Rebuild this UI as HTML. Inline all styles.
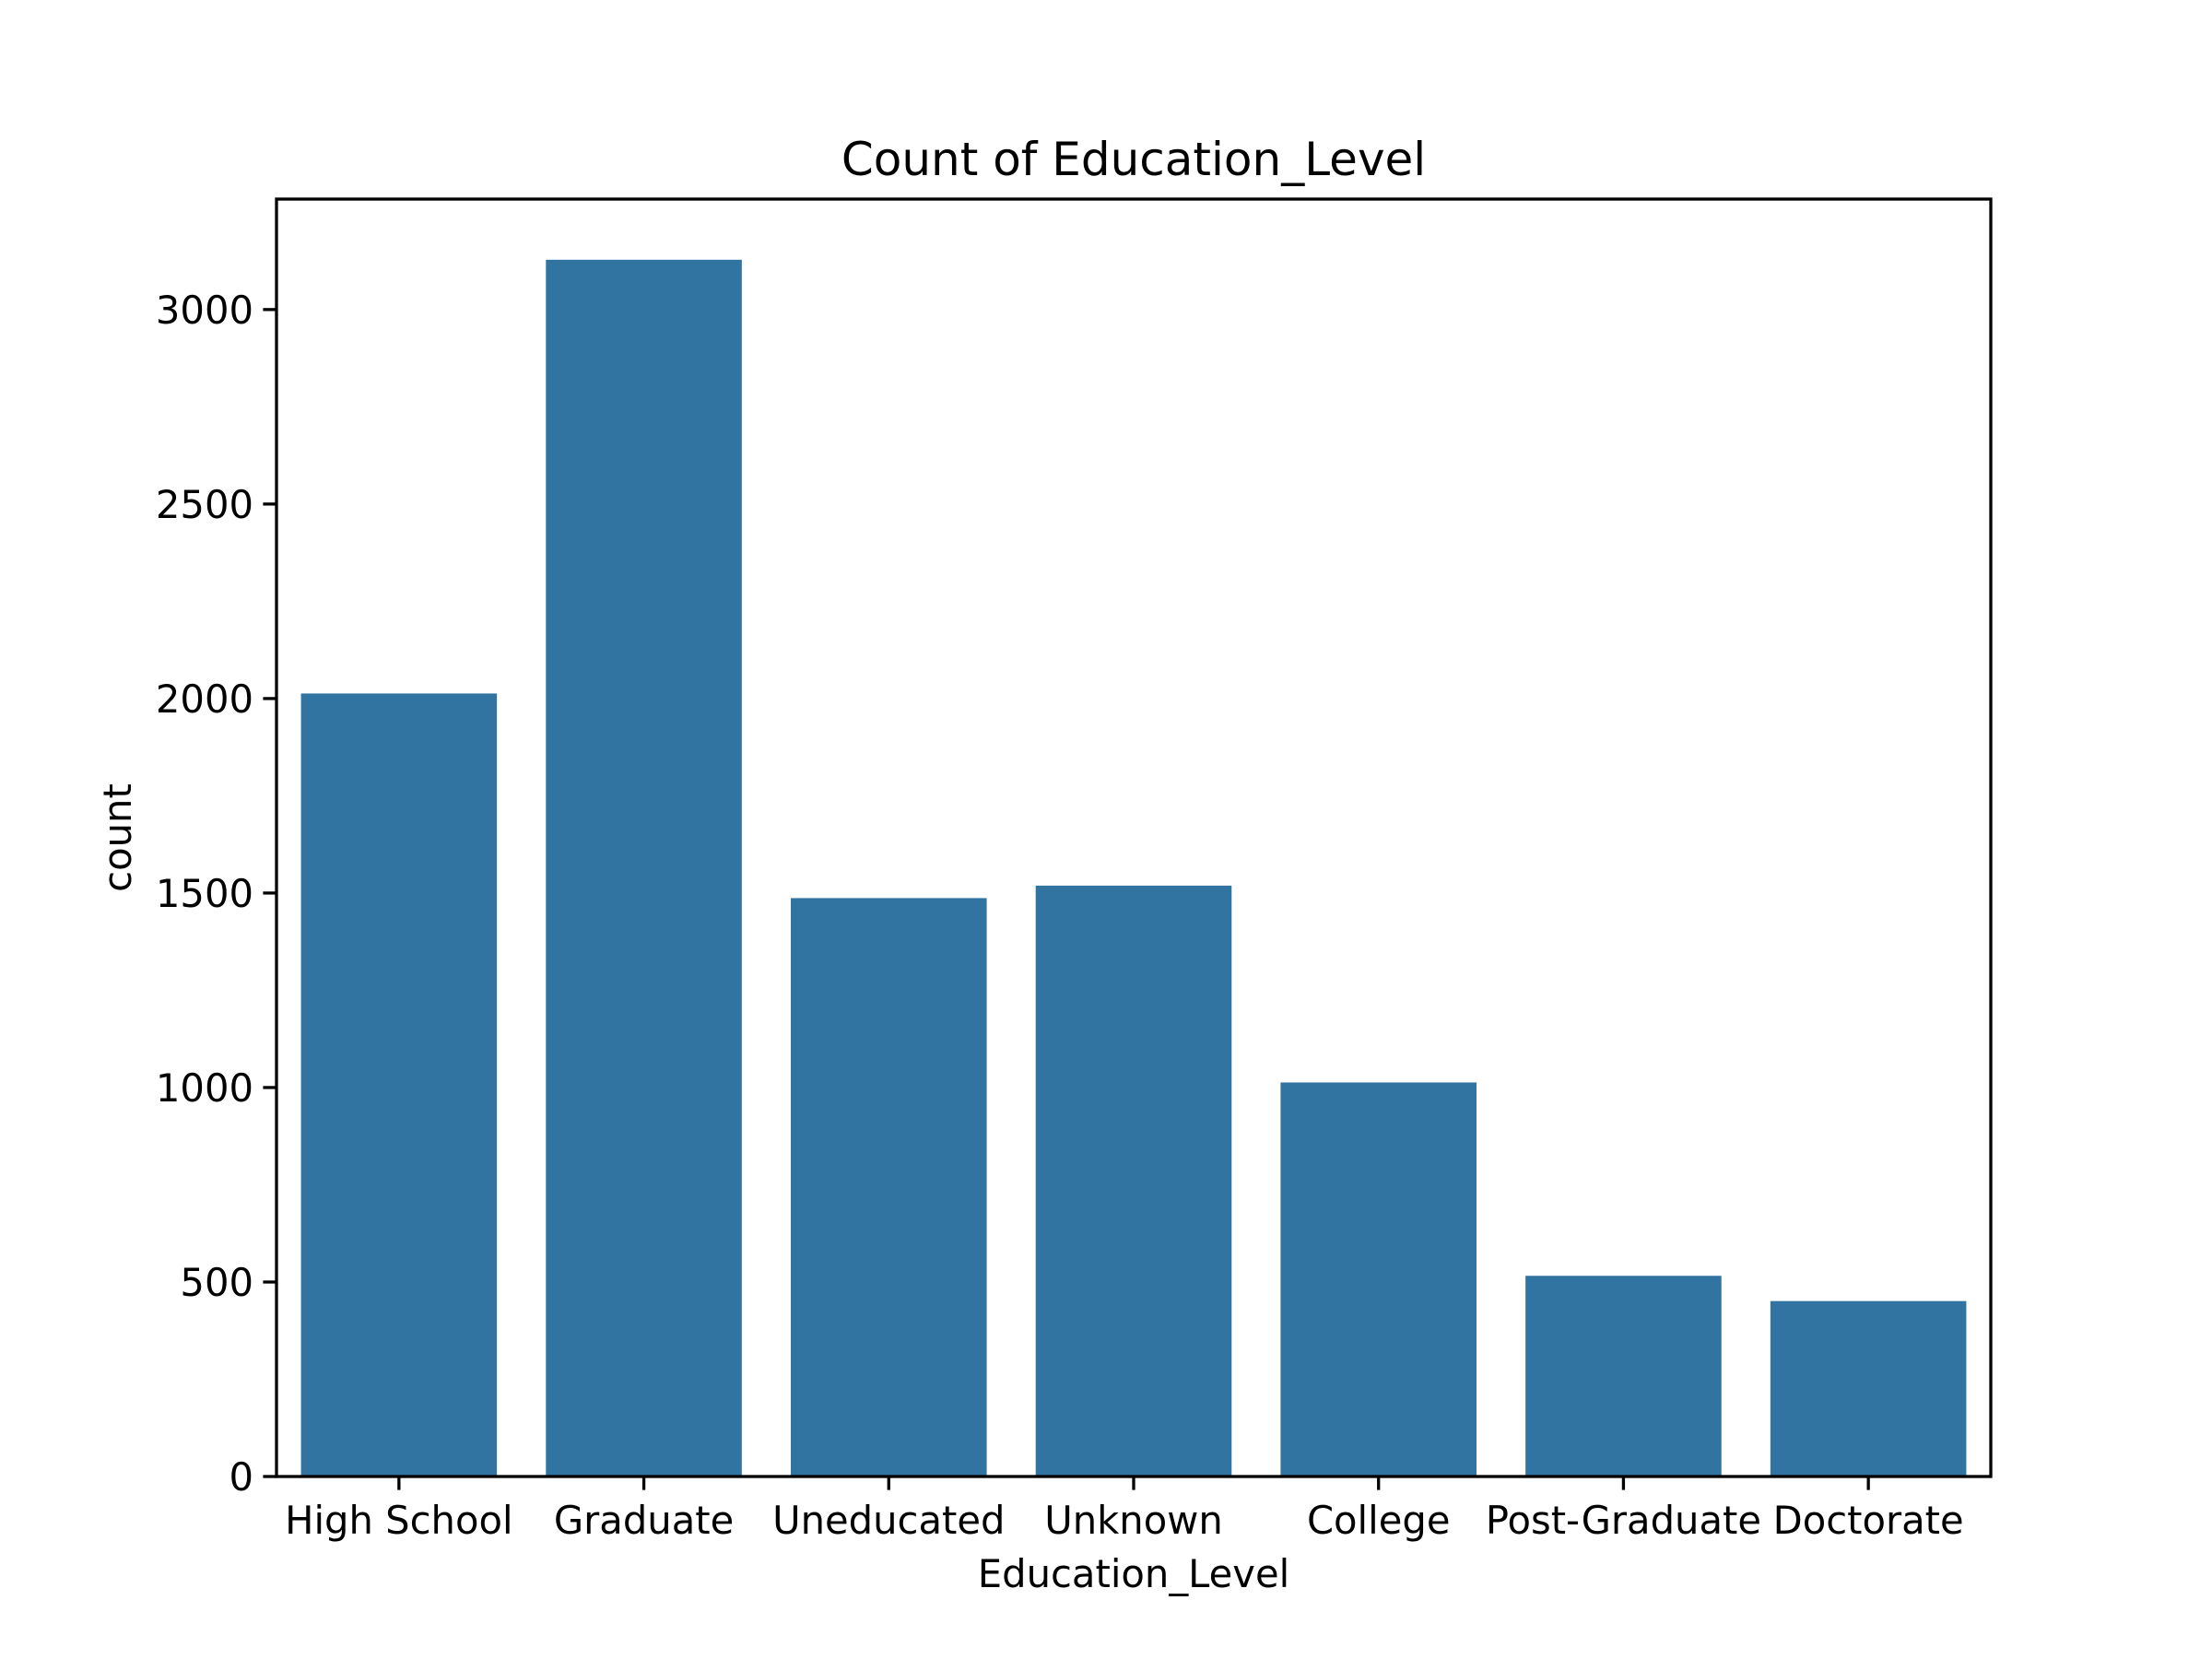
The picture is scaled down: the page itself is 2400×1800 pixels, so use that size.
<!DOCTYPE html>
<html><head><meta charset="utf-8"><style>
html,body{margin:0;padding:0;background:#fff}
svg{display:block}
text{font-family:"DejaVu Sans","Liberation Sans",sans-serif;fill:#000}
</style></head><body>
<svg id="chart" width="2400" height="1800" viewBox="0 0 2400 1800" xmlns="http://www.w3.org/2000/svg">
<rect width="2400" height="1800" fill="#fff"/>
<text x="1230" y="190" font-size="50" text-anchor="middle">Count of Education_Level</text>
<g id="bars"></g>
<g id="yaxis"></g>
<g id="xaxis"></g>
<rect x="300" y="216" width="1860" height="1386" fill="none" stroke="#000" stroke-width="3.3"/>
<text x="1230" y="1722" font-size="41.7" text-anchor="middle">Education_Level</text>
<text x="0" y="0" font-size="41.7" text-anchor="middle" transform="translate(142,909) rotate(-90)">count</text>
</svg>
<script>
const categories = ["High School","Graduate","Uneducated","Unknown","College","Post-Graduate","Doctorate"];
const counts = [2013,3128,1487,1519,1013,516,451];
const yTicks = [0,500,1000,1500,2000,2500,3000];

const NS = "http://www.w3.org/2000/svg";
const L=300,R=2160,T=216,B=1602,YMAX=3284;
const y = v => B - v/YMAX*(B-T);
const step = (R-L)/categories.length;
const x = i => L + (i+0.5)*step;
const bw = step*0.8;
const bars=document.getElementById('bars'), ya=document.getElementById('yaxis'), xa=document.getElementById('xaxis');
function mk(tag,attrs,parent){const e=document.createElementNS(NS,tag);for(const k in attrs)e.setAttribute(k,attrs[k]);parent.appendChild(e);return e;}
counts.forEach((v,i)=>{
  const r=mk('rect',{x:x(i)-bw/2,y:y(v),width:bw,height:B-y(v),fill:'#3274a1'},bars);
  
  
});
yTicks.forEach(t=>{
  const l=mk('line',{x1:L-14.6,x2:L,y1:y(t),y2:y(t),stroke:'#000','stroke-width':3.3},ya);
  
  
  const tx=mk('text',{x:L-25,y:y(t)+15,'font-size':41.7,'text-anchor':'end'},ya);
  tx.textContent=t;
  
  
});
categories.forEach((c,i)=>{
  const l=mk('line',{x1:x(i),x2:x(i),y1:B,y2:B+14.6,stroke:'#000','stroke-width':3.3},xa);
  
  
  const tx=mk('text',{x:x(i),y:1664,'font-size':41.7,'text-anchor':'middle'},xa);
  tx.textContent=c;
  
  
});
</script>
</body></html>
